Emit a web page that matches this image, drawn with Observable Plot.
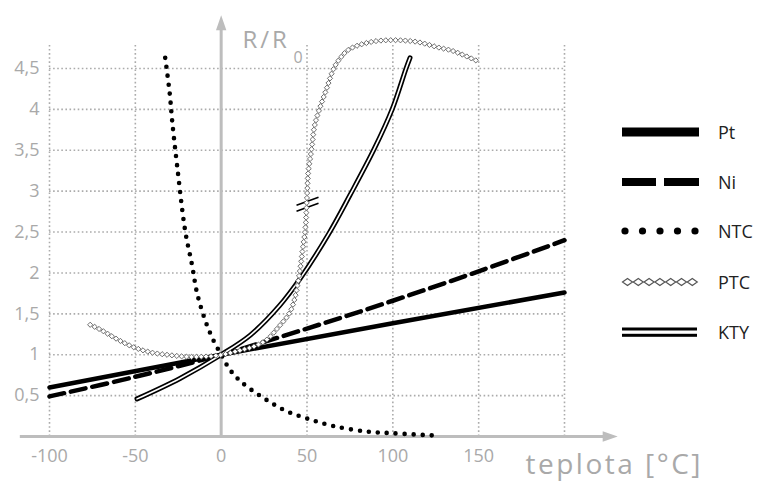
<!DOCTYPE html>
<html><head><meta charset="utf-8">
<script src="https://cdn.jsdelivr.net/npm/d3@7"></script>
<script src="https://cdn.jsdelivr.net/npm/@observablehq/plot@0.6"></script>
<style>
body{margin:0;background:#fff;}
#wrap{position:relative;width:758px;height:482px;font-family:"Open Sans",sans-serif;}
#legend{position:absolute;left:0;top:0;pointer-events:none;}
</style></head><body><div id="wrap"></div>
<script>
// ---- data ----
const ptT = [-100, 0, 100, 200];
const ptV = [0.6, 1, 1.385, 1.76];

const niT = [-100, -50, 0, 50, 100, 150, 200];
const niV = [0.49, 0.73, 1, 1.32, 1.66, 2.02, 2.40];

const ntcT = [-32.6, -30, -28.5, -25.6, -21, -17, -14, -9.3, -4.6, 0, 5, 10, 17, 27, 38, 50, 65, 85, 100, 126];
const ntcV = [4.63, 4.2, 3.85, 3.3, 2.52, 2.1, 1.75, 1.42, 1.18, 1, 0.82, 0.7, 0.58, 0.44, 0.31, 0.22, 0.13, 0.06, 0.04, 0.01];

const ptcT = [-76, -70, -60, -50, -40, -30, -20, -10, 0, 10, 20, 27, 34, 40, 43, 46, 48, 49.4, 50.3, 51, 52.9, 54.7, 57.6, 61.6, 66, 70, 75, 88, 100, 114, 127, 135, 150];
const ptcV = [1.36, 1.30, 1.18, 1.08, 1.02, 0.99, 0.97, 0.97, 0.99, 1.04, 1.1, 1.18, 1.34, 1.5, 1.67, 2.0, 2.32, 2.55, 2.93, 3.22, 3.5, 3.79, 4.0, 4.24, 4.5, 4.63, 4.73, 4.82, 4.84, 4.82, 4.75, 4.71, 4.58];

const ktyT = [-49, -24, 0, 17, 34, 46, 62.7, 75, 89, 99.6, 107.7, 110];
const ktyV = [0.46, 0.71, 1, 1.24, 1.6, 1.93, 2.48, 2.95, 3.51, 4.0, 4.5, 4.63];

const breakT = [50.3];
const breakV = [2.84];

const xTicks = [-100, -50, 0, 50, 100, 150];
const xTickLabels = ["-100", "-50", "0", "50", "100", "150"];
const yTicks = [0.5, 1, 1.5, 2, 2.5, 3, 3.5, 4, 4.5];
const yTickLabels = ["0,5", "1", "1,5", "2", "2,5", "3", "3,5", "4", "4,5"];
const xGrid = [-100, -50, 50, 100, 150, 200];
const yGrid = [0.5, 1, 1.5, 2, 2.5, 3, 3.5, 4, 4.5];

const legendNames = ["Pt", "Ni", "NTC", "PTC", "KTY"];
const xLabel = "teplota [°C]";
const yLabelMain = "R/R";
const yLabelSub = "0";

// ---- build ----
const pts = (T, V) => T.map((t, i) => ({t, v: V[i]}));
const gridCol = "#ababab";
const axisCol = "#bdbdbd";
const textCol = "#a9a9a9";

const upTriangle = {draw(ctx) { ctx.moveTo(0, 0); ctx.lineTo(5.2, 15); ctx.lineTo(-5.2, 15); ctx.closePath(); }};
const breakSym = {draw(ctx) { ctx.moveTo(-11, 1); ctx.lineTo(11, -7); ctx.moveTo(-11, 7); ctx.lineTo(11, -1); }};

const chart = Plot.plot({
  width: 758, height: 482,
  marginLeft: 49, marginRight: 194, marginTop: 43.45, marginBottom: 46,
  x: {domain: [-100, 200], axis: null},
  y: {domain: [0, 4.8], axis: null},
  style: {background: "transparent", fontFamily: "'Open Sans', sans-serif", overflow: "visible"},
  marks: [
    Plot.ruleX(xGrid, {y1: 0, y2: 4.8, stroke: gridCol, strokeWidth: 1.6, strokeDasharray: "1.6 2.5"}),
    Plot.ruleY(yGrid, {x1: -100, x2: 200, stroke: gridCol, strokeWidth: 1.6, strokeDasharray: "1.6 2.5"}),
    // axes
    Plot.ruleY([0], {x1: -117, x2: 224, stroke: axisCol, strokeWidth: 3}),
    Plot.ruleX([0], {y1: 0, y2: 4.98, stroke: axisCol, strokeWidth: 3}),
    Plot.dot([{t: 0, v: 5.15}], {x: "t", y: "v", symbol: upTriangle, fill: axisCol, stroke: "none"}),
    Plot.dot([{t: 231, v: 0}], {x: "t", y: "v", symbol: upTriangle, rotate: 90, fill: axisCol, stroke: "none"}),
    // PTC (diamond chain added along it afterwards)
    Plot.line(pts(ptcT, ptcV), {x: "t", y: "v", curve: "catmull-rom", stroke: "#888", strokeWidth: 0.8, ariaLabel: "ptc"}),
    // Pt
    Plot.line(pts(ptT, ptV), {x: "t", y: "v", stroke: "#000", strokeWidth: 4.5}),
    // Ni
    Plot.line(pts(niT, niV), {x: "t", y: "v", curve: "catmull-rom", stroke: "#000", strokeWidth: 4.5, strokeDasharray: "15 7"}),
    // NTC
    Plot.line(pts(ntcT, ntcV), {x: "t", y: "v", curve: "catmull-rom", stroke: "#000", strokeWidth: 4.6, strokeDasharray: "0 9", strokeLinecap: "round"}),
    // KTY double line
    Plot.line(pts(ktyT, ktyV), {x: "t", y: "v", curve: "catmull-rom", stroke: "#000", strokeWidth: 5}),
    Plot.line(pts(ktyT, ktyV), {x: "t", y: "v", curve: "catmull-rom", stroke: "#fff", strokeWidth: 1.6}),
    // break mark on PTC
    Plot.dot(pts(breakT, breakV), {x: "t", y: "v", symbol: breakSym, fill: "none", stroke: "#000", strokeWidth: 1.6}),
    // tick labels
    Plot.text(yTicks.map((v, i) => ({v, s: yTickLabels[i]})), {x: -100, y: "v", text: "s", dx: -10, textAnchor: "end", fill: textCol, fontSize: 18}),
    Plot.text(xTicks.map((t, i) => ({t, s: xTickLabels[i]})), {x: "t", y: 0, text: "s", dy: 20, fill: textCol, fontSize: 18}),
    // axis titles
    Plot.text([yLabelMain], {frameAnchor: "top-left", text: d => d, dx: 193, dy: 4, textAnchor: "start", lineAnchor: "bottom", fill: textCol, fontSize: 24}),
    Plot.text([yLabelSub], {frameAnchor: "top-left", text: d => d, dx: 244, dy: 19, textAnchor: "start", lineAnchor: "bottom", fill: textCol, fontSize: 16}),
    Plot.text([xLabel], {frameAnchor: "bottom-left", text: d => d, dx: 476, dy: 37.5, textAnchor: "start", lineAnchor: "bottom", fill: textCol, fontSize: 28})
  ]
});

const wrap = document.getElementById("wrap");
wrap.appendChild(chart);

// wider letter spacing for the axis titles (reference lettering is wider)
chart.querySelectorAll("text").forEach(t => {
  if (t.textContent === xLabel) t.setAttribute("letter-spacing", "2.5");
  if (t.textContent === yLabelMain) t.setAttribute("letter-spacing", "3");
});

// diamond chain along the PTC curve (same catmull-rom curve, through Plot's scales)
const ns = "http://www.w3.org/2000/svg";
try {
  const sx = chart.scale("x"), sy = chart.scale("y");
  const P = ptcT.map((t, i) => [sx.apply(t), sy.apply(ptcV[i])]);
  const poly = [];
  let cur = null;
  const rec = {
    moveTo(x, y) { cur = [x, y]; poly.push(cur); },
    lineTo(x, y) { cur = [x, y]; poly.push(cur); },
    bezierCurveTo(x1, y1, x2, y2, x, y) {
      const [x0, y0] = cur;
      for (let k = 1; k <= 30; k++) {
        const u = k / 30, a = (1 - u) ** 3, b = 3 * (1 - u) ** 2 * u, c = 3 * (1 - u) * u * u, e = u ** 3;
        poly.push([a * x0 + b * x1 + c * x2 + e * x, a * y0 + b * y1 + c * y2 + e * y]);
      }
      cur = [x, y];
    },
    closePath() {}
  };
  d3.line().curve(d3.curveCatmullRom).context(rec)(P);
  const dg = document.createElementNS(ns, "g");
  const h = 2.6, step = 4.9;
  const addDiamond = (x, y) => {
    const d = document.createElementNS(ns, "path");
    d.setAttribute("d", `M${x},${y - h}L${x + h},${y}L${x},${y + h}L${x - h},${y}Z`);
    d.setAttribute("fill", "#fff");
    d.setAttribute("stroke", "#5e5e5e");
    d.setAttribute("stroke-width", "0.9");
    dg.appendChild(d);
  };
  addDiamond(poly[0][0], poly[0][1]);
  let acc = 0;
  for (let i = 1; i < poly.length; i++) {
    let [xa, ya] = poly[i - 1];
    const [xb, yb] = poly[i];
    let seg = Math.hypot(xb - xa, yb - ya);
    while (acc + seg >= step) {
      const r = (step - acc) / seg;
      xa = xa + (xb - xa) * r; ya = ya + (yb - ya) * r;
      addDiamond(xa, ya);
      seg = Math.hypot(xb - xa, yb - ya);
      acc = 0;
    }
    acc += seg;
  }
  const ptcG = chart.querySelector('g[aria-label="ptc"]');
  if (ptcG) ptcG.parentNode.insertBefore(dg, ptcG.nextSibling); else chart.appendChild(dg);
} catch (e) { console.error(e); }

// legend (overlay)
const lg = d3.select(wrap).append("svg").attr("id", "legend").attr("width", 758).attr("height", 482);
const L0 = {x1: 622, x2: 699, top: 132, gap: 50, labelX: 718};
legendNames.forEach((name, i) => {
  const y = L0.top + i * L0.gap - (i >= 2 ? 1 : 0) + (i >= 3 ? 1 : 0);
  const g = lg.append("g");
  if (name === "Pt") {
    g.append("rect").attr("x", L0.x1).attr("y", y - 4.5).attr("width", L0.x2 - L0.x1).attr("height", 9).attr("fill", "#000");
  } else if (name === "Ni") {
    g.append("rect").attr("x", L0.x1).attr("y", y - 4).attr("width", 34).attr("height", 8).attr("fill", "#000");
    g.append("rect").attr("x", L0.x1 + 42).attr("y", y - 4).attr("width", 35).attr("height", 8).attr("fill", "#000");
  } else if (name === "NTC") {
    for (let k = 0; k < 5; k++) g.append("circle").attr("cx", 625 + k * 17.5).attr("cy", y).attr("r", 3.6).attr("fill", "#000");
  } else if (name === "PTC") {
    for (let k = 0; k < 7; k++) {
      const cx = 627.5 + k * 10.8;
      g.append("path").attr("d", `M${cx - 5},${y}L${cx},${y - 3.6}L${cx + 5},${y}L${cx},${y + 3.6}Z`).attr("fill", "#fff").attr("stroke", "#555").attr("stroke-width", 1.2);
    }
  } else if (name === "KTY") {
    g.append("rect").attr("x", L0.x1).attr("y", y - 4.5).attr("width", 75).attr("height", 3).attr("fill", "#000");
    g.append("rect").attr("x", L0.x1).attr("y", y + 1.8).attr("width", 75).attr("height", 3).attr("fill", "#000");
  }
  g.append("text").attr("x", L0.labelX).attr("y", y + 6.5).text(name)
    .attr("font-family", "'Open Sans', sans-serif").attr("font-size", 18).attr("fill", "#222");
});
</script>
</body></html>
